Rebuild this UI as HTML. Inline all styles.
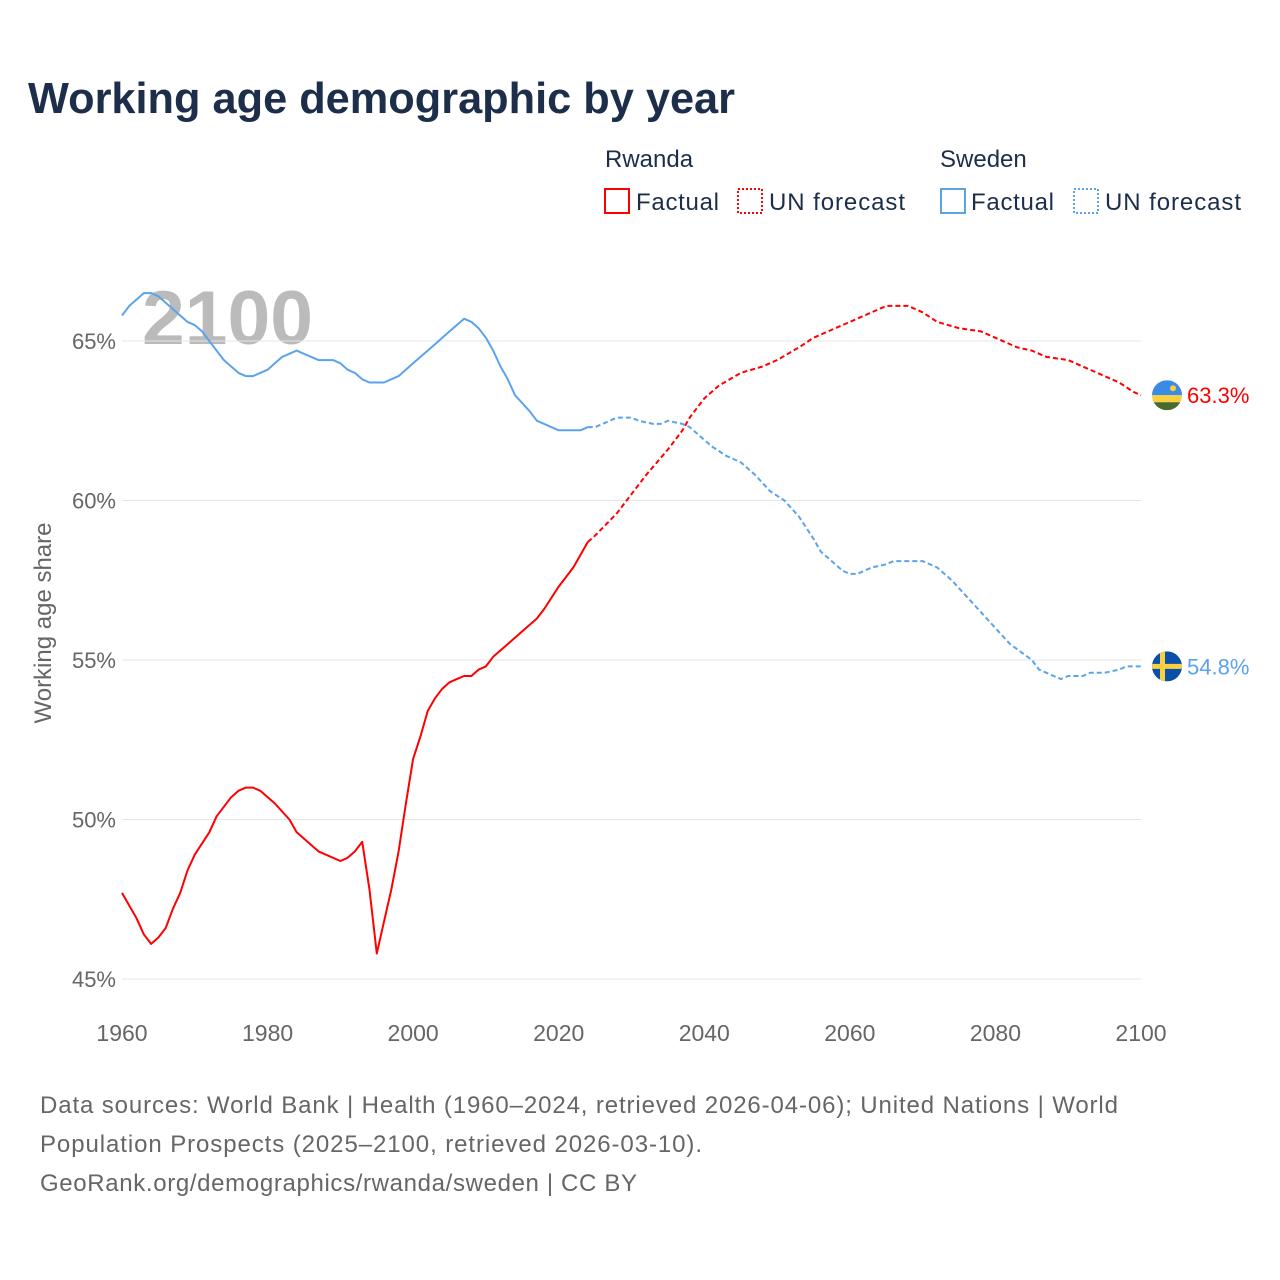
<!DOCTYPE html>
<html><head><meta charset="utf-8"><style>
body{margin:0;background:#fff;font-family:"Liberation Sans",sans-serif;}
svg{display:block}
</style></head><body>
<svg id="chart" width="1280" height="1280">
<text x="28" y="113" font-size="44" font-weight="bold" fill="#1c2e4a" textLength="707" lengthAdjust="spacingAndGlyphs">Working age demographic by year</text>
<g font-size="24" fill="#1c2e4a">
<text x="605" y="167">Rwanda</text>
<rect x="605" y="189" width="24" height="24" fill="none" stroke="#f00" stroke-width="2"/>
<text x="636" y="210" textLength="83">Factual</text>
<rect x="738" y="189" width="24" height="24" fill="none" stroke="#f00" stroke-width="2" stroke-dasharray="2,2"/>
<text x="769" y="210" textLength="136">UN forecast</text>
<text x="940" y="167">Sweden</text>
<rect x="941" y="189" width="24" height="24" fill="none" stroke="#5ba3ec" stroke-width="2"/>
<text x="971" y="210" textLength="83">Factual</text>
<rect x="1074" y="189" width="24" height="24" fill="none" stroke="#5ba3ec" stroke-width="2" stroke-dasharray="2,2"/>
<text x="1105" y="210" textLength="136">UN forecast</text>
</g>
<text x="142" y="344" font-size="76" font-weight="bold" fill="#bbb" textLength="171" lengthAdjust="spacingAndGlyphs">2100</text>
<g id="grid"></g>
<text transform="translate(51,623) rotate(-90)" text-anchor="middle" font-size="24" fill="#666">Working age share</text>
<g id="series"></g>
<g font-size="24" fill="#666">
<text x="40" y="1113" textLength="1078">Data sources: World Bank | Health (1960–2024, retrieved 2026-04-06); United Nations | World</text>
<text x="40" y="1152" textLength="662">Population Prospects (2025–2100, retrieved 2026-03-10).</text>
<text x="40" y="1191" textLength="597">GeoRank.org/demographics/rwanda/sweden | CC BY</text>
</g>
</svg>
<script>
const yTicks=[45,50,55,60,65];
const xTicks=[1960,1980,2000,2020,2040,2060,2080,2100];
const rwFactYears=[1960,1962,1963,1964,1965,1966,1967,1968,1969,1970,1972,1973,1975,1976,1977,1978,1979,1981,1983,1984,1987,1990,1991,1992,1993,1994,1995,1996,1997,1998,1999,2000,2001,2002,2003,2004,2005,2006,2007,2008,2009,2010,2011,2013,2015,2017,2018,2020,2022,2024];
const rwFactVals=[47.7,46.9,46.4,46.1,46.3,46.6,47.2,47.7,48.4,48.9,49.6,50.1,50.7,50.9,51.0,51.0,50.9,50.5,50.0,49.6,49.0,48.7,48.8,49.0,49.3,47.8,45.8,46.8,47.8,49.0,50.5,51.9,52.6,53.4,53.8,54.1,54.3,54.4,54.5,54.5,54.7,54.8,55.1,55.5,55.9,56.3,56.6,57.3,57.9,58.7];
const rwFcYears=[2024,2025,2028,2030,2032,2035,2037,2038,2040,2042,2045,2048,2050,2053,2055,2058,2060,2063,2065,2068,2070,2072,2075,2078,2080,2083,2085,2087,2090,2093,2095,2097,2099,2100];
const rwFcVals=[58.7,58.9,59.6,60.2,60.8,61.6,62.2,62.6,63.2,63.6,64.0,64.2,64.4,64.8,65.1,65.4,65.6,65.9,66.1,66.1,65.9,65.6,65.4,65.3,65.1,64.8,64.7,64.5,64.4,64.1,63.9,63.7,63.4,63.3];
const seFactYears=[1960,1961,1962,1963,1964,1965,1966,1967,1968,1969,1970,1971,1972,1973,1974,1975,1976,1977,1978,1980,1982,1984,1985,1987,1989,1990,1991,1992,1993,1994,1996,1998,2000,2003,2005,2007,2008,2009,2010,2011,2012,2013,2014,2016,2017,2018,2020,2023,2024];
const seFactVals=[65.8,66.1,66.3,66.5,66.5,66.4,66.2,66.0,65.8,65.6,65.5,65.3,65.0,64.7,64.4,64.2,64.0,63.9,63.9,64.1,64.5,64.7,64.6,64.4,64.4,64.3,64.1,64.0,63.8,63.7,63.7,63.9,64.3,64.9,65.3,65.7,65.6,65.4,65.1,64.7,64.2,63.8,63.3,62.8,62.5,62.4,62.2,62.2,62.3];
const seFcYears=[2024,2025,2027,2028,2030,2031,2033,2034,2035,2037,2038,2040,2041,2043,2045,2047,2049,2051,2053,2055,2056,2058,2059,2060,2061,2063,2065,2066,2070,2072,2074,2076,2078,2080,2082,2085,2086,2088,2089,2090,2092,2093,2095,2097,2098,2100];
const seFcVals=[62.3,62.3,62.5,62.6,62.6,62.5,62.4,62.4,62.5,62.4,62.3,61.9,61.7,61.4,61.2,60.8,60.3,60.0,59.5,58.8,58.4,58.0,57.8,57.7,57.7,57.9,58.0,58.1,58.1,57.9,57.5,57.0,56.5,56.0,55.5,55.0,54.7,54.5,54.4,54.5,54.5,54.6,54.6,54.7,54.8,54.8];
const NS='http://www.w3.org/2000/svg';
const X=y=>122+(y-1960)*(1019/140);
const Y=v=>341+(65-v)*31.9;
const grid=document.getElementById('grid'), ser=document.getElementById('series');
function mk(tag,attrs,parent){const e=document.createElementNS(NS,tag);for(const k in attrs)e.setAttribute(k,attrs[k]);parent.appendChild(e);return e;}
yTicks.forEach(t=>{
  const l=mk('line',{x1:122,x2:1141,y1:Y(t),y2:Y(t),stroke:'#e6e6e6','stroke-width':1},grid);
  
  
  const tx=mk('text',{x:116,y:Y(t)+8,'text-anchor':'end','font-size':22,fill:'#666'},grid);
  tx.textContent=t+'%';
  
  
});
xTicks.forEach(t=>{
  const tx=mk('text',{x:X(t),y:1041,'text-anchor':'middle','font-size':23,fill:'#666'},grid);
  tx.textContent=t;
  
  
});
function line(ys,vs,color,dash,name){
  const d=ys.map((y,i)=>(i?'L':'M')+X(y).toFixed(1)+','+Y(vs[i]).toFixed(1)).join('');
  const p=mk('path',{d:d,fill:'none',stroke:color,'stroke-width':2,'stroke-linejoin':'round'},ser);
  if(dash)p.setAttribute('stroke-dasharray','5,3');
  
  
}
line(rwFactYears,rwFactVals,'#f00',false,'rwanda-factual-line');
line(rwFcYears,rwFcVals,'#f00',true,'rwanda-forecast-line');
line(seFactYears,seFactVals,'#5ba3ec',false,'sweden-factual-line');
line(seFcYears,seFcVals,'#5ba3ec',true,'sweden-forecast-line');
const rwEnd=rwFcVals[rwFcVals.length-1], seEnd=seFcVals[seFcVals.length-1];
const fx=X(2100)+26;
let g=mk('g',{},ser);


const cy1=Y(rwEnd);
mk('clipPath',{id:'c1'},g);
mk('circle',{cx:fx,cy:cy1,r:15},document.getElementById('c1'));
const gg=mk('g',{'clip-path':'url(#c1)'},g);
mk('rect',{x:fx-15,y:cy1-15,width:30,height:15,fill:'#3a8ae6'},gg);
mk('rect',{x:fx-15,y:cy1,width:30,height:7,fill:'#fad040'},gg);
mk('rect',{x:fx-15,y:cy1+7,width:30,height:8,fill:'#4a6a2e'},gg);
mk('circle',{cx:fx+6,cy:cy1-7,r:3,fill:'#fad040'},gg);
let t1=mk('text',{x:fx+20,y:cy1+8,'font-size':22,fill:'#f00'},ser);
t1.textContent=rwEnd.toFixed(1)+'%';


g=mk('g',{},ser);


const cy2=Y(seEnd);
mk('clipPath',{id:'c2'},g);
mk('circle',{cx:fx,cy:cy2,r:15},document.getElementById('c2'));
const g2=mk('g',{'clip-path':'url(#c2)'},g);
mk('rect',{x:fx-15,y:cy2-15,width:30,height:30,fill:'#0a4fa8'},g2);
mk('rect',{x:fx-15,y:cy2-2.5,width:30,height:5,fill:'#fad040'},g2);
mk('rect',{x:fx-7,y:cy2-15,width:5,height:30,fill:'#fad040'},g2);
let t2=mk('text',{x:fx+20,y:cy2+8,'font-size':22,fill:'#5ba3ec'},ser);
t2.textContent=seEnd.toFixed(1)+'%';


</script>
</body></html>
